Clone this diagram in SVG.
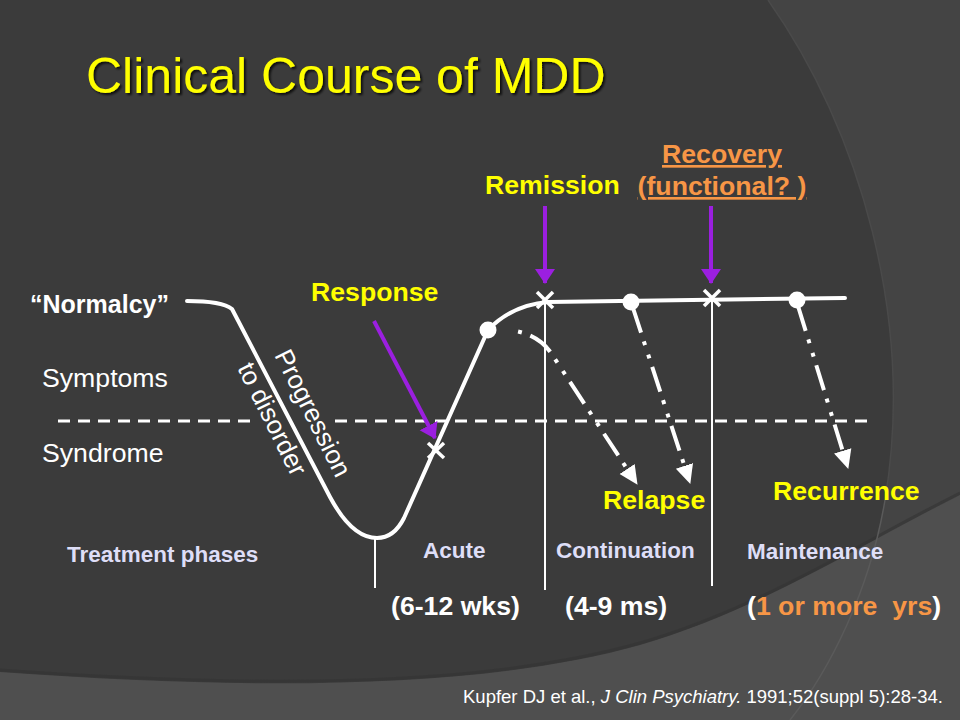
<svg xmlns="http://www.w3.org/2000/svg" width="960" height="720" viewBox="0 0 960 720">
<style>
.lbl{font-family:"Liberation Sans",Arial,sans-serif;font-weight:bold;font-size:26.67px;fill:#ffff00}
.wt{font-family:"Liberation Sans",Arial,sans-serif;fill:#ffffff}
.ph{font-family:"Liberation Sans",Arial,sans-serif;font-weight:bold;font-size:22.5px;fill:#dedef7}
.or{font-family:"Liberation Sans",Arial,sans-serif;font-weight:bold;font-size:26.67px;fill:#f79646}
.curve{fill:none;stroke:#ffffff;stroke-width:4;stroke-linecap:round;stroke-linejoin:round}
.vline{stroke:#ffffff;stroke-width:2}
.dash{stroke:#ffffff;stroke-width:3;stroke-dasharray:12 8}
.dd{fill:none;stroke:#ffffff;stroke-width:4;stroke-dasharray:26 9 4 10 4 9}
.pur{stroke:#9b1fe0;stroke-width:4;fill:none}
.xm{stroke:#ffffff;stroke-width:3.5}
</style>
<defs>
<filter id="sh" x="-5%" y="-20%" width="110%" height="140%">
<feDropShadow dx="2" dy="2" stdDeviation="1" flood-color="#000000" flood-opacity="0.75"/>
</filter>
<marker id="wa" markerUnits="userSpaceOnUse" markerWidth="20" markerHeight="20" refX="18" refY="10" orient="auto">
<path d="M0,1 L19,10 L0,19 Z" fill="#ffffff"/>
</marker>
<marker id="pa" markerUnits="userSpaceOnUse" markerWidth="16" markerHeight="22" refX="14" refY="11" orient="auto">
<path d="M0,1 L15,11 L0,21 Z" fill="#9b1fe0"/>
</marker>
</defs>

<!-- background -->
<rect x="0" y="0" width="960" height="720" fill="#3b3b3b"/>
<path d="M768,0 C860,130 915,320 885,500 C870,590 830,670 790,720 L960,720 L960,0 Z" fill="#444444"/>
<path d="M0,672 C250,690 480,690 640,645 C760,610 860,545 960,495 L960,720 L0,720 Z" fill="#4f4f4f"/>
<path d="M0,670 C250,688 480,688 640,643 C760,608 860,543 960,493" fill="none" stroke="#333333" stroke-width="3" opacity="0.6"/>
<path d="M885,500 C870,590 830,670 790,720" fill="none" stroke="#5a5a5a" stroke-width="1.5"/>
<path d="M768,0 C860,130 915,320 885,500" fill="none" stroke="#4a4a4a" stroke-width="1.5"/>

<!-- title -->
<text x="86" y="93" font-family="'Liberation Sans',Arial,sans-serif" font-size="50" fill="#ffff00" filter="url(#sh)">Clinical Course of MDD</text>

<!-- axis labels -->
<g id="normalcy"><text x="30" y="313" class="wt" font-size="25" font-weight="bold">“Normalcy”</text></g>
<g id="symptoms"><text x="42" y="387" class="wt" font-size="26.67">Symptoms</text></g>
<g id="syndrome"><text x="42" y="462" class="wt" font-size="26.67">Syndrome</text></g>

<!-- connectors / lines -->
<g id="connectors">
<line class="dash" x1="58" y1="421" x2="252" y2="421"/>
<line class="dash" x1="335" y1="421" x2="872" y2="421"/>
<line class="vline" x1="375" y1="538" x2="375" y2="588"/>
<line class="vline" x1="545" y1="300" x2="545" y2="590"/>
<line class="vline" x1="712" y1="298" x2="712" y2="586"/>
<path class="curve" d="M187,301 Q222,301 232,309 L330,497 Q352,538 377,538 Q394,538 404,518 L488,330 Q512,305 548,302 L845,298"/>
<!-- dash-dot arrows -->
<path class="dd" stroke-dashoffset="41" d="M510,330 Q540,334 553,356 L637,484" marker-end="url(#wa)"/>
<path class="dd" d="M633,308 L690,483" marker-end="url(#wa)"/>
<path class="dd" d="M798,306 L848,468" marker-end="url(#wa)"/>
<!-- purple arrows -->
<line class="pur" x1="374" y1="321" x2="435" y2="438" marker-end="url(#pa)"/>
<line class="pur" x1="545" y1="206" x2="545" y2="283" marker-end="url(#pa)"/>
<line class="pur" x1="711" y1="206" x2="711" y2="283" marker-end="url(#pa)"/>
</g>

<!-- markers on curve -->
<g id="points">
<circle cx="488" cy="330" r="8.5" fill="#ffffff"/>
<circle cx="631" cy="302" r="8.5" fill="#ffffff"/>
<circle cx="797" cy="300" r="8.5" fill="#ffffff"/>
<g class="xm">
<line x1="428" y1="443" x2="444" y2="458"/><line x1="428" y1="458" x2="444" y2="443"/>
<line x1="537" y1="292" x2="553" y2="308"/><line x1="537" y1="308" x2="553" y2="292"/>
<line x1="704" y1="290" x2="720" y2="306"/><line x1="704" y1="306" x2="720" y2="290"/>
</g>
</g>

<!-- progression label -->
<g id="progression" transform="translate(274,355) rotate(63.4)">
<text x="0" y="0" class="wt" font-size="26">Progression</text>
<text x="-5" y="39" class="wt" font-size="26">to disorder</text>
</g>

<!-- event labels -->
<g id="response"><text x="311" y="301" class="lbl">Response</text></g>
<g id="remission"><text x="485" y="194" class="lbl">Remission</text></g>
<g id="recovery">
<text x="722" y="163" class="or" text-anchor="middle" text-decoration="underline">Recovery</text>
<text x="722" y="195" class="or" text-anchor="middle" text-decoration="underline" style="white-space:pre">(functional? )</text>
</g>
<g id="relapse"><text x="603" y="509" class="lbl">Relapse</text></g>
<g id="recurrence"><text x="773" y="500" class="lbl">Recurrence</text></g>

<!-- phases -->
<g id="phases">
<text x="67" y="562" class="ph" font-size="24">Treatment phases</text>
<text x="423" y="558" class="ph">Acute</text>
<text x="556" y="558" class="ph">Continuation</text>
<text x="747" y="559" class="ph">Maintenance</text>
</g>
<g id="durations">
<text x="391" y="615" class="wt" font-size="26.67" font-weight="bold">(6-12 wks)</text>
<text x="565" y="615" class="wt" font-size="26.67" font-weight="bold">(4-9 ms)</text>
<text x="747" y="615" class="wt" font-size="26.67" font-weight="bold" style="white-space:pre">(<tspan fill="#f79646">1 or more  yrs</tspan>)</text>
</g>

<!-- citation -->
<text x="463" y="703" class="wt" font-size="18.5">Kupfer DJ et al., <tspan font-style="italic">J Clin Psychiatry.</tspan> 1991;52(suppl 5):28-34.</text>
</svg>
